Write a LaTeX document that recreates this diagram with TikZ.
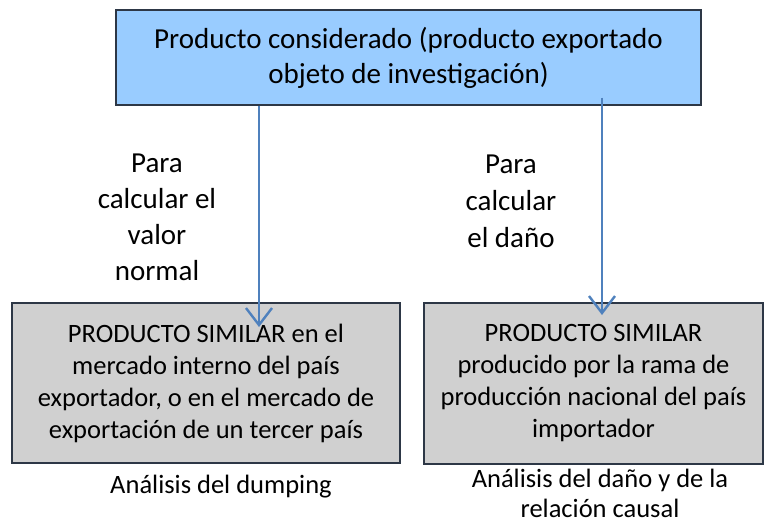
\documentclass[tikz,border=0pt]{standalone}
\usepackage{fontspec}
\setmainfont{Carlito}
\usetikzlibrary{arrows.meta}
\definecolor{topblue}{RGB}{153,204,255}
\definecolor{boxgray}{RGB}{208,208,208}
\definecolor{edgedark}{RGB}{45,55,70}
\definecolor{arrowblue}{RGB}{79,129,189}
\tikzset{
  topbox/.style={draw=edgedark, fill=topblue, line width=1.2pt, align=center, inner sep=0pt},
  simbox/.style={draw=edgedark, fill=boxgray, line width=1.2pt, align=center, inner sep=0pt},
  note/.style={align=center, inner sep=0pt},
  flow/.style={arrowblue, line width=2.4pt, -{Straight Barb[length=17pt, width=26pt]}}
}
\begin{document}
\begin{tikzpicture}[x=1pt, y=-1pt, font=\fontsize{26.5}{32}\selectfont]
\useasboundingbox (0,0) rectangle (764,522); % page
\node[topbox, minimum width=585pt, minimum height=95pt, font=\fontsize{29}{35}\selectfont] (prod) at (408.5,57.5) {Producto considerado (producto exportado\\objeto de investigación)}; % product box
\node[simbox, minimum width=388pt, minimum height=160pt] (simL) at (206,383) {PRODUCTO SIMILAR en el\\mercado interno del país\\exportador, o en el mercado de\\exportación de un tercer país}; % left box
\node[simbox, minimum width=339pt, minimum height=161pt] (simR) at (593.5,383.5) {PRODUCTO SIMILAR\\producido por la rama de\\producción nacional del país\\importador}; % right box
\node[note, font=\fontsize{29}{36}\selectfont] (paraL) at (157,217) {Para\\calcular el\\valor\\normal}; % left label
\node[note, font=\fontsize{29}{37}\selectfont] (paraR) at (511,201) {Para\\calcular\\el daño}; % right label
\node[note] (dump) at (221,487) {Análisis del dumping}; % left caption
\node[note, font=\fontsize{26.5}{30}\selectfont] (dano) at (600,493) {Análisis del daño y de la\\relación causal}; % right caption
\coordinate (tipL) at (259,327);
\coordinate (tipR) at (602,315);
\draw[flow] (prod.south -| tipL) -- (tipL); % left arrow
\draw[flow] ([yshift=8pt]prod.south -| tipR) -- (tipR); % right arrow
\end{tikzpicture}
\end{document}
